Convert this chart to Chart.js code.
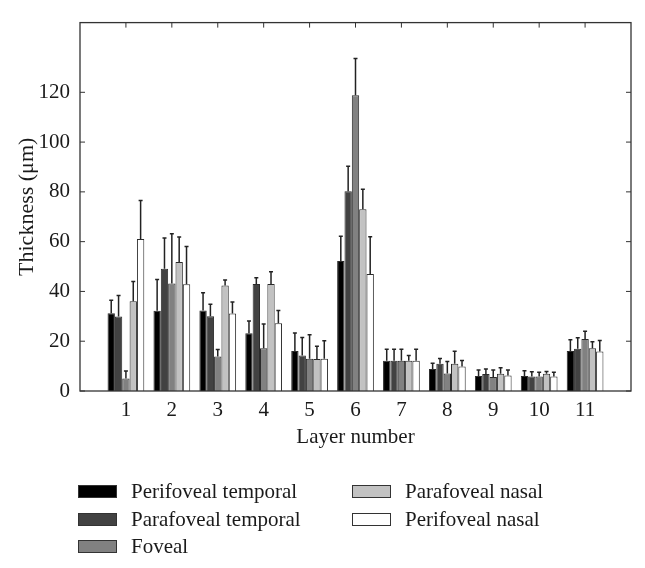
<!DOCTYPE html>
<html>
<head>
  <title>Layer thickness</title>
  <script src="https://cdn.jsdelivr.net/npm/chart.js"></script>
  <style>
    body {
      margin: 0;
      background: #fff;
      font-family: 'Liberation Serif', serif;
      color: #1a1a1a;
    }
    .wrap {
      position: relative;
      width: 645px;
      height: 568px;
    }
    .chart-box {
      position: absolute;
      left: 0;
      top: 0;
      width: 645px;
      height: 460px;
    }
    .legend {
      position: absolute;
      left: 0;
      top: 0;
      width: 645px;
      height: 568px;
      pointer-events: none;
    }
    .item {
      position: absolute;
      display: flex;
      align-items: center;
      font-size: 21px;
      height: 22px;
      white-space: nowrap;
    }
    .swatch {
      width: 37px;
      height: 11px;
      border: 1px solid #333;
      margin-right: 14px;
    }
  </style>
</head>
<body>
<div class="wrap">
  <div class="chart-box"><canvas id="myChart"></canvas></div>
  <div class="legend" id="legend"></div>
</div>

<script>
  // layers 1..11, empty slot at both ends so the axis runs 0..12
  const layers = ['1', '2', '3', '4', '5', '6', '7', '8', '9', '10', '11'];

  const seriesNames = ['Perifoveal temporal', 'Parafoveal temporal', 'Foveal', 'Parafoveal nasal', 'Perifoveal nasal'];
  const seriesColors = ['#000000', '#424242', '#818181', '#c2c2c2', '#ffffff'];

  // mean thickness (um)
  const perifovealTemporal = [31.2, 32.2, 32.3, 23.2, 16.1, 52.2, 12.2, 8.8, 6.0, 6.0, 16.1];
  const parafovealTemporal = [29.9, 49.1, 30.0, 43.0, 14.3, 80.2, 12.2, 10.9, 6.8, 5.8, 17.0];
  const foveal             = [5.0, 43.2, 13.9, 17.2, 13.0, 118.8, 12.2, 7.0, 5.6, 5.8, 20.9];
  const parafovealNasal    = [36.1, 51.8, 42.4, 43.0, 12.9, 73.0, 12.2, 10.9, 6.9, 6.9, 17.2];
  const perifovealNasal    = [61.1, 42.9, 31.1, 27.2, 13.0, 47.0, 12.2, 9.8, 6.2, 5.8, 15.9];

  // standard deviation (upper whisker only)
  const perifovealTemporalSd = [5.3, 12.6, 7.2, 4.9, 7.2, 10.0, 4.6, 2.3, 2.4, 2.1, 4.5];
  const parafovealTemporalSd = [8.5, 12.4, 4.9, 2.5, 7.2, 10.1, 4.6, 2.2, 2.0, 1.9, 4.4];
  const fovealSd             = [3.0, 20.0, 2.8, 9.7, 9.6, 14.8, 4.6, 4.9, 2.8, 1.7, 3.1];
  const parafovealNasalSd    = [7.9, 10.1, 2.2, 4.9, 5.1, 8.1, 2.1, 5.1, 2.4, 0.9, 2.6];
  const perifovealNasalSd    = [15.4, 15.2, 4.7, 5.1, 7.2, 15.0, 4.6, 2.5, 2.2, 1.7, 4.4];

  const yTickLabels = [0, 20, 40, 60, 80, 100, 120];

  const means = [perifovealTemporal, parafovealTemporal, foveal, parafovealNasal, perifovealNasal];
  const sds = [perifovealTemporalSd, parafovealTemporalSd, fovealSd, parafovealNasalSd, perifovealNasalSd];

  const labels = [''].concat(layers, ['']);
  const pad = arr => [null].concat(arr, [null]);

  const FONT = 'Liberation Serif';
  const INK = '#1a1a1a';

  const datasets = seriesNames.map((name, i) => ({
    label: name,
    data: pad(means[i]),
    sd: pad(sds[i]),
    backgroundColor: seriesColors[i],
    borderColor: '#2a2a2a',
    borderWidth: 1,
    categoryPercentage: 0.8,
    barPercentage: 1.0
  }));

  // error whiskers, box frame and inward tick marks
  const decorations = {
    id: 'decorations',
    afterDatasetsDraw(chart) {
      const ctx = chart.ctx;
      const area = chart.chartArea;
      const x = chart.scales.x;
      const y = chart.scales.y;
      ctx.save();

      ctx.strokeStyle = '#222';
      ctx.lineWidth = 1.5;
      chart.data.datasets.forEach((ds, i) => {
        const meta = chart.getDatasetMeta(i);
        meta.data.forEach((bar, j) => {
          const v = ds.data[j];
          if (v === null) return;
          const top = y.getPixelForValue(v + ds.sd[j]);
          ctx.beginPath();
          ctx.moveTo(bar.x, bar.y);
          ctx.lineTo(bar.x, top);
          ctx.moveTo(bar.x - 2, top);
          ctx.lineTo(bar.x + 2, top);
          ctx.stroke();
        });
      });

      ctx.strokeStyle = '#333';
      ctx.lineWidth = 1.3;
      ctx.strokeRect(area.left, area.top, area.right - area.left, area.bottom - area.top);

      ctx.lineWidth = 1;
      const tl = 5;
      y.ticks.forEach(t => {
        if (t.value % 20 !== 0) return;
        const py = y.getPixelForValue(t.value);
        ctx.beginPath();
        ctx.moveTo(area.left, py);
        ctx.lineTo(area.left + tl, py);
        ctx.moveTo(area.right, py);
        ctx.lineTo(area.right - tl, py);
        ctx.stroke();
      });
      layers.forEach((l, k) => {
        const px = x.getPixelForValue(k + 1);
        ctx.beginPath();
        ctx.moveTo(px, area.top);
        ctx.lineTo(px, area.top + tl);
        ctx.stroke();
      });
      ctx.restore();
    }
  };

  new Chart(document.getElementById('myChart').getContext('2d'), {
    type: 'bar',
    data: { labels, datasets },
    plugins: [decorations],
    options: {
      responsive: true,
      maintainAspectRatio: false,
      animation: false,
      layout: { padding: { top: 15, right: 14, left: 0, bottom: 0 } },
      plugins: {
        legend: { display: false },
        tooltip: { enabled: false }
      },
      scales: {
        x: {
          offset: false,
          grid: { display: false, offset: false, drawTicks: false },
          border: { display: false },
          ticks: {
            autoSkip: false,
            maxRotation: 0,
            padding: 7,
            color: INK,
            font: { family: FONT, size: 21 }
          },
          title: {
            display: true,
            text: 'Layer number',
            color: INK,
            font: { family: FONT, size: 21 },
            padding: { top: 0, bottom: 10 }
          },
          afterFit(scale) { scale.height = 69; }
        },
        y: {
          min: 0,
          max: 148,
          grid: { display: false, drawTicks: false },
          border: { display: false },
          ticks: {
            stepSize: 20,
            padding: 10,
            color: INK,
            font: { family: FONT, size: 21 },
            callback: v => yTickLabels.includes(v) ? String(v) : ''
          },
          title: {
            display: true,
            text: 'Thickness (μm)',
            color: INK,
            font: { family: FONT, size: 22 },
            padding: { top: 14, bottom: 0 }
          },
          afterFit(scale) { scale.width = 80; }
        }
      }
    }
  });

  // two-column legend, filled column by column
  const legendPos = [
    { left: 78, top: 480 }, { left: 78, top: 508 }, { left: 78, top: 535 },
    { left: 352, top: 480 }, { left: 352, top: 508 }
  ];
  const legend = document.getElementById('legend');
  seriesNames.forEach((name, i) => {
    const item = document.createElement('div');
    item.className = 'item';
    item.style.left = legendPos[i].left + 'px';
    item.style.top = legendPos[i].top + 'px';
    const sw = document.createElement('span');
    sw.className = 'swatch';
    sw.style.background = seriesColors[i];
    item.appendChild(sw);
    item.appendChild(document.createTextNode(name));
    legend.appendChild(item);
  });
</script>
</body>
</html>
